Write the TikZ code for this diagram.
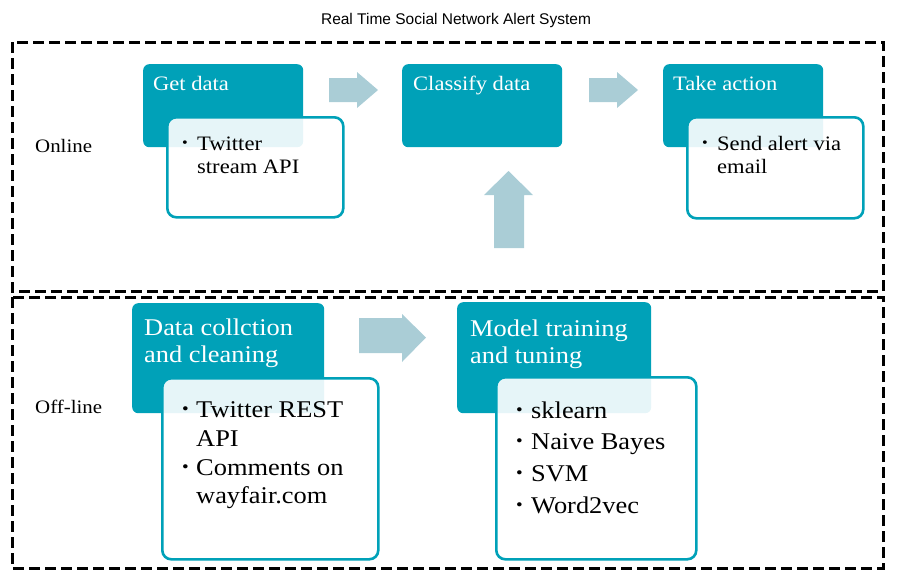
\documentclass[tikz,border=0pt]{standalone}
\usepackage{fontspec}
\setmainfont{Liberation Serif}[FakeStretch=1.1]
\newfontfamily\titlefont{Liberation Sans}
\newcommand{\mybul}{\raisebox{0.12em}{\scalebox{0.72}{\textbullet}}}
\definecolor{tealc}{RGB}{0,161,184}
\definecolor{arrowc}{RGB}{170,205,214}
\tikzset{
  headbox/.style={fill=tealc, draw=none, rounded corners=6pt, inner sep=0pt, anchor=north west},
  listbox/.style={fill=white, fill opacity=0.9, draw=tealc, line width=2.6pt, rounded corners=9pt, inner sep=0pt, anchor=north west},
  headtxt/.style={text=white, anchor=base west, inner sep=0pt},
  listtxt/.style={text=black, anchor=base west, inner sep=0pt},
  frame/.style={draw=black, line width=3pt, dash pattern=on 11pt off 5pt},
  blockarrow/.style={fill=arrowc, draw=none},
  side/.style={anchor=base west, inner sep=0pt, font=\fontsize{19}{22}\selectfont},
  smallf/.style={font=\fontsize{20.5}{23}\selectfont},
  bigf/.style={font=\fontsize{24}{27}\selectfont}
}
\begin{document}
\begin{tikzpicture}[x=1pt,y=-1pt]
\useasboundingbox (0,0) rectangle (900,574);
% title
\node[anchor=base, inner sep=0pt, font=\titlefont\fontsize{15.5}{18}\selectfont] (title) at (456,24) {Real Time Social Network Alert System};
% frames
\draw[frame] (12,42) rectangle (883,291);
\draw[frame] (12,297) rectangle (883,568);
\node[side] (online) at (35,152) {Online};
\node[side] (offline) at (35,413) {Off-line};
% ---- online row
\node[headbox, minimum width=160pt, minimum height=83pt] (gd) at (143,64) {};
\node[listbox, minimum width=176pt, minimum height=100pt] (gdl) at (166,116) {};
\node[headtxt, smallf] (gdt) at (153,90) {Get data};
\node[listtxt, smallf] (gdb) at (182,150) {\mybul};
\node[listtxt, smallf] (gdi) at (197,150) {\vtop{\hbox{Twitter}\hbox{stream API}}};

\node[headbox, minimum width=160pt, minimum height=83pt] (cd) at (402,64) {};
\node[headtxt, smallf] (cdt) at (413,90) {Classify data};

\node[headbox, minimum width=160pt, minimum height=83pt] (ta) at (663,64) {};
\node[listbox, minimum width=176pt, minimum height=101pt] (tal) at (686,116) {};
\node[headtxt, smallf] (tat) at (673,90) {Take action};
\node[listtxt, smallf] (tab) at (702,150) {\mybul};
\node[listtxt, smallf] (tai) at (717,150) {\vtop{\hbox{Send alert via}\hbox{email}}};

% block arrows online
\fill[blockarrow] (329,78) -- (357,78) -- (357,72) -- (378,90) -- (357,108) -- (357,102) -- (329,102) -- cycle;
\fill[blockarrow] (589,78) -- (617,78) -- (617,72) -- (638,90) -- (617,108) -- (617,102) -- (589,102) -- cycle;
\fill[blockarrow] (494,248) -- (494,195) -- (484,195) -- (508.5,171) -- (533,195) -- (524,195) -- (524,248) -- cycle;

% ---- offline row
\node[headbox, minimum width=192pt, minimum height=110pt] (dc) at (132,303) {};
\node[listbox, minimum width=216pt, minimum height=181pt] (dcl) at (161,377) {};
\node[headtxt, bigf] (dct) at (144,335) {\vtop{\hbox{Data collction}\hbox{and cleaning}}};
\node[listtxt, bigf] (dcb1) at (182,417) {\mybul};
\node[listtxt, font=\fontsize{24}{29}\selectfont] (dci1) at (196,417) {\vtop{\hbox{Twitter REST}\hbox{API}}};
\node[listtxt, bigf] (dcb2) at (182,475) {\mybul};
\node[listtxt, font=\fontsize{24}{28.5}\selectfont] (dci2) at (196,475) {\vtop{\hbox{Comments on}\hbox{wayfair.com}}};

\node[headbox, minimum width=194pt, minimum height=111pt] (mt) at (457,302) {};
\node[listbox, minimum width=200pt, minimum height=182pt] (mtl) at (495,376) {};
\node[headtxt, bigf] (mtt) at (470,336) {\vtop{\hbox{Model training}\hbox{and tuning}}};
\node[listtxt, font=\fontsize{24}{31.7}\selectfont] (mtb) at (516,418) {\vtop{\hbox{\mybul}\hbox{\mybul}\hbox{\mybul}\hbox{\mybul}}};
\node[listtxt, font=\fontsize{24}{31.7}\selectfont] (mti) at (531,418) {\vtop{\hbox{sklearn}\hbox{Naive Bayes}\hbox{SVM}\hbox{Word2vec}}};

\fill[blockarrow] (359,318) -- (402,318) -- (402,314) -- (426,337.5) -- (402,362) -- (402,353) -- (359,353) -- cycle;
\end{tikzpicture}
\end{document}
